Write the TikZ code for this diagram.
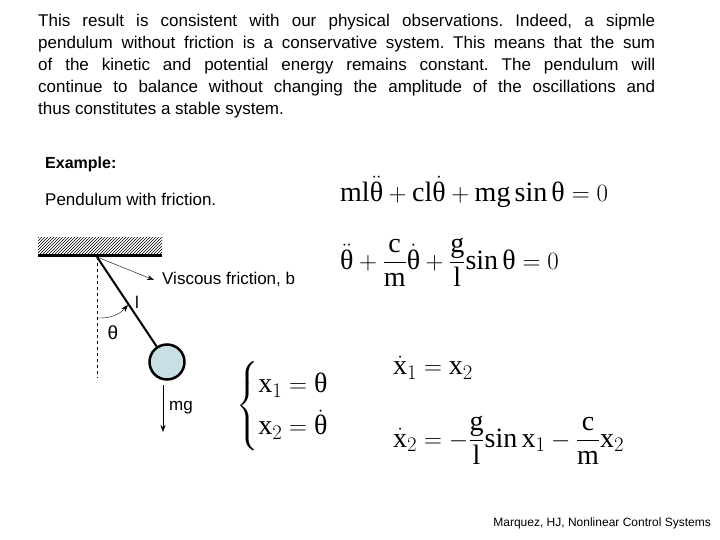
\documentclass[tikz,border=0pt]{standalone}
\usepackage{amsmath}
\usepackage{fontspec}
\setmainfont{Liberation Sans}
\newfontfamily\eqfont{Liberation Serif}
\usetikzlibrary{patterns,arrows.meta}
\newcommand\er[1]{\text{\eqfont #1}}
\newcommand\thet{\er{θ}}
\definecolor{bobfill}{HTML}{C8E0E4}
\frenchspacing

\begin{document}
\begin{tikzpicture}[x=1pt,y=-1pt,
    body/.style={font=\fontsize{17}{22}\selectfont, align=justify, text width=617pt, inner sep=0pt, anchor=north west},
    lbl/.style={font=\fontsize{17}{20}\selectfont, inner sep=0pt},
    eqn/.style={font=\fontsize{28}{32}\selectfont, inner sep=0pt},
    force/.style={-{Stealth[length=7pt,width=5pt]}, thin}]
    \useasboundingbox (0,0) rectangle (720,540);
    \node[body] (intro) at (38,14) {This result is consistent with our physical observations. Indeed, a sipmle\linebreak pendulum without friction is a conservative system. This means that the sum\linebreak of the kinetic and potential energy remains constant. The pendulum will\linebreak continue to balance without changing the amplitude of the oscillations and\linebreak thus constitutes a stable system.};
    \node[lbl, anchor=west, font=\bfseries\fontsize{16}{18}\selectfont] (ex) at (45,164) {Example:};
    \node[lbl, anchor=west] (title) at (45,199) {Pendulum with friction.};

    % ceiling and pendulum
    \fill[pattern=north east lines] (38,237) rectangle (162,253);
    \draw[line width=3pt] (38,255) -- (162,255);
    \coordinate (pivot) at (97,257);
    \coordinate (vbot) at (97,378);
    \node[circle, draw, line width=2.5pt, fill=bobfill, minimum size=35pt, inner sep=0pt] (bob) at (167,362) {};
    \draw[dashed] (pivot) -- (vbot);
    \draw[line width=2pt] (pivot) -- (bob);
    \node[lbl, anchor=west] (fric) at (162,279) {Viscous friction, b};
    \draw[force] (pivot) -- ([xshift=-8pt,yshift=-1pt]fric.west);
    \node[lbl] (len) at (137,302) {l};
    \node[lbl, font=\fontsize{19}{22}\selectfont] (th) at (113,333) {θ};
    \draw[force] (97,318) to[bend right=25] (128,305);
    \coordinate (mgtop) at (163,385);
    \coordinate (mgbot) at (163,432);
    \draw[force] (mgtop) -- (mgbot);
    \node[lbl, anchor=west] (mg) at (169,408) {mg};

    % equations
    \node[eqn, anchor=west] (eq1) at (340,192) {$\er{ml}\ddot{\thet}+\er{cl}\dot{\thet}+\er{mg}\,\er{sin}\,\thet=0$};
    \node[eqn, anchor=west] (eq2) at (340,262) {$\ddot{\thet}+\dfrac{\er{c}}{\er{m}}\dot{\thet}+\dfrac{\er{g}}{\er{l}}\er{sin}\,\thet=0$};
    \node[eqn, anchor=west] (sys) at (236,406) {$\begin{cases}\er{x}_1=\thet\\[4pt] \er{x}_2=\dot{\thet}\end{cases}$};
    \node[eqn, anchor=west] (st1) at (393,368) {$\dot{\er{x}}_1=\er{x}_2$};
    \node[eqn, anchor=west] (st2) at (393,440) {$\dot{\er{x}}_2=-\dfrac{\er{g}}{\er{l}}\er{sin}\,\er{x}_1-\dfrac{\er{c}}{\er{m}}\er{x}_2$};

    \node[lbl, anchor=east, font=\fontsize{12}{14}\selectfont] (foot) at (711,523) {Marquez, HJ, Nonlinear Control Systems};
\end{tikzpicture}
\end{document}
